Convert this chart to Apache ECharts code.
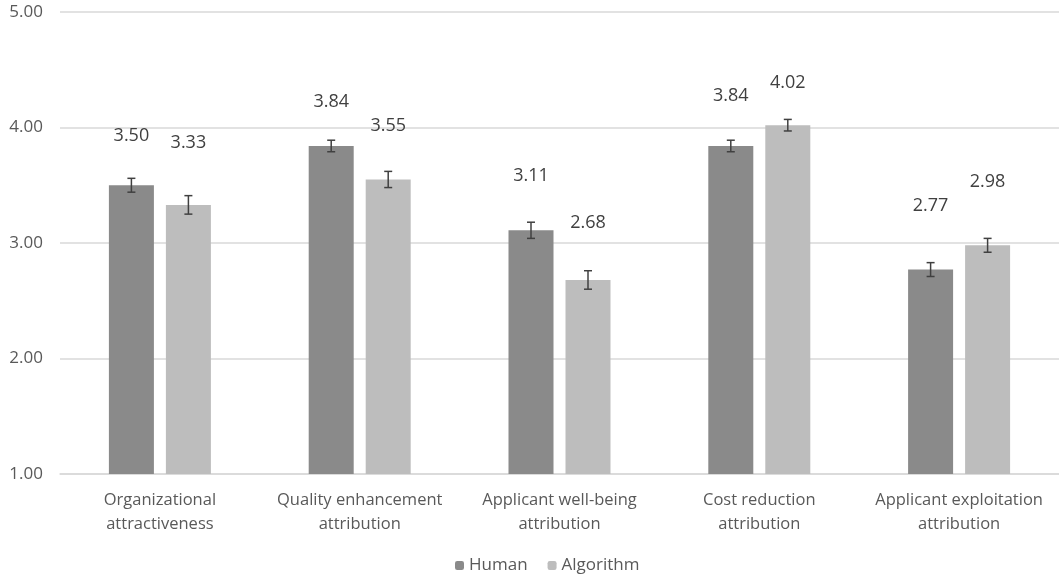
<!DOCTYPE html>
<html>
<head>
<meta charset="utf-8">
<script src="https://cdn.jsdelivr.net/npm/echarts@6/dist/echarts.min.js"></script>
<style>
html,body{margin:0;padding:0;background:#fff;}
#chart{width:1059px;height:579px;}
</style>
</head>
<body>
<div id="chart"></div>
<script>
const categories = ["Organizational attractiveness", "Quality enhancement attribution", "Applicant well-being attribution", "Cost reduction attribution", "Applicant exploitation attribution"];
const humanValues = [3.50, 3.84, 3.11, 3.84, 2.77];
const algorithmValues = [3.33, 3.55, 2.68, 4.02, 2.98];
const humanErrors = [0.06, 0.05, 0.07, 0.05, 0.06];
const algorithmErrors = [0.08, 0.07, 0.08, 0.05, 0.06];
const yTicks = [1, 2, 3, 4, 5];

// styling: per-label lift (px) above bar top, as manually placed in the original
const humanLabelLift = [40, 35, 45, 41, 55];
const algorithmLabelLift = [53, 45, 48, 33, 54];

const FONT = '"Open Sans", "Noto Sans", sans-serif';
const BAR_W = 45, BAR_GAP = 12;
const OFFSET = (BAR_W + BAR_GAP) / 2;

const chart = echarts.init(document.getElementById('chart'));

function errorSeries(name, values, errors, dir) {
  return {
    type: 'custom',
    name: name + ' error',
    z: 10,
    silent: true,
    data: values.map((v, i) => [i, v - errors[i], v + errors[i]]),
    renderItem: function (params, api) {
      const i = api.value(0);
      const lo = api.coord([i, api.value(1)]);
      const hi = api.coord([i, api.value(2)]);
      const x = lo[0] + dir * OFFSET;
      const hw = 4;
      const style = { stroke: '#404040', lineWidth: 1.5 };
      return {
        type: 'group',
        children: [
          { type: 'line', shape: { x1: x, y1: lo[1], x2: x, y2: hi[1] }, style },
          { type: 'line', shape: { x1: x - hw, y1: lo[1], x2: x + hw, y2: lo[1] }, style },
          { type: 'line', shape: { x1: x - hw, y1: hi[1], x2: x + hw, y2: hi[1] }, style }
        ]
      };
    }
  };
}

const labelStyle = {
  show: true,
  position: 'top',
  fontFamily: FONT,
  fontSize: 18,
  color: '#404040',
  formatter: p => p.value.toFixed(2)
};

function barData(values, lifts) {
  return values.map((v, i) => ({ value: v, label: { distance: lifts[i] } }));
}

chart.setOption({
  animation: false,
  backgroundColor: '#fff',
  grid: { left: 60, right: 0, top: 12, bottom: 105 },
  legend: {
    bottom: 0,
    left: 450,
    itemWidth: 9,
    itemHeight: 9,
    itemGap: 20,
    textStyle: { fontFamily: FONT, fontSize: 17, color: '#595959' },
    data: ['Human', 'Algorithm']
  },
  xAxis: {
    type: 'category',
    data: categories,
    axisLine: { lineStyle: { color: '#d9d9d9', width: 1.5 } },
    axisTick: { show: false },
    axisLabel: {
      fontFamily: FONT,
      fontSize: 16.5,
      color: '#595959',
      lineHeight: 24,
      margin: 14,
      interval: 0,
      formatter: v => { const k = v.lastIndexOf(' '); return v.slice(0, k) + '\n' + v.slice(k + 1); }
    }
  },
  yAxis: {
    type: 'value',
    min: yTicks[0],
    max: yTicks[yTicks.length - 1],
    interval: 1,
    axisLine: { show: false },
    axisTick: { show: false },
    splitLine: { lineStyle: { color: '#d9d9d9', width: 1.5 } },
    axisLabel: {
      fontFamily: FONT,
      fontSize: 17,
      color: '#595959',
      margin: 17,
      formatter: v => v.toFixed(2)
    }
  },
  series: [
    {
      name: 'Human',
      type: 'bar',
      data: barData(humanValues, humanLabelLift),
      barWidth: BAR_W,
      barGap: (BAR_GAP / BAR_W * 100) + '%',
      itemStyle: { color: '#8a8a8a' },
      label: labelStyle
    },
    {
      name: 'Algorithm',
      type: 'bar',
      data: barData(algorithmValues, algorithmLabelLift),
      barWidth: BAR_W,
      itemStyle: { color: '#bdbdbd' },
      label: labelStyle
    },
    errorSeries('Human', humanValues, humanErrors, -1),
    errorSeries('Algorithm', algorithmValues, algorithmErrors, 1)
  ]
});
</script>
</body>
</html>
